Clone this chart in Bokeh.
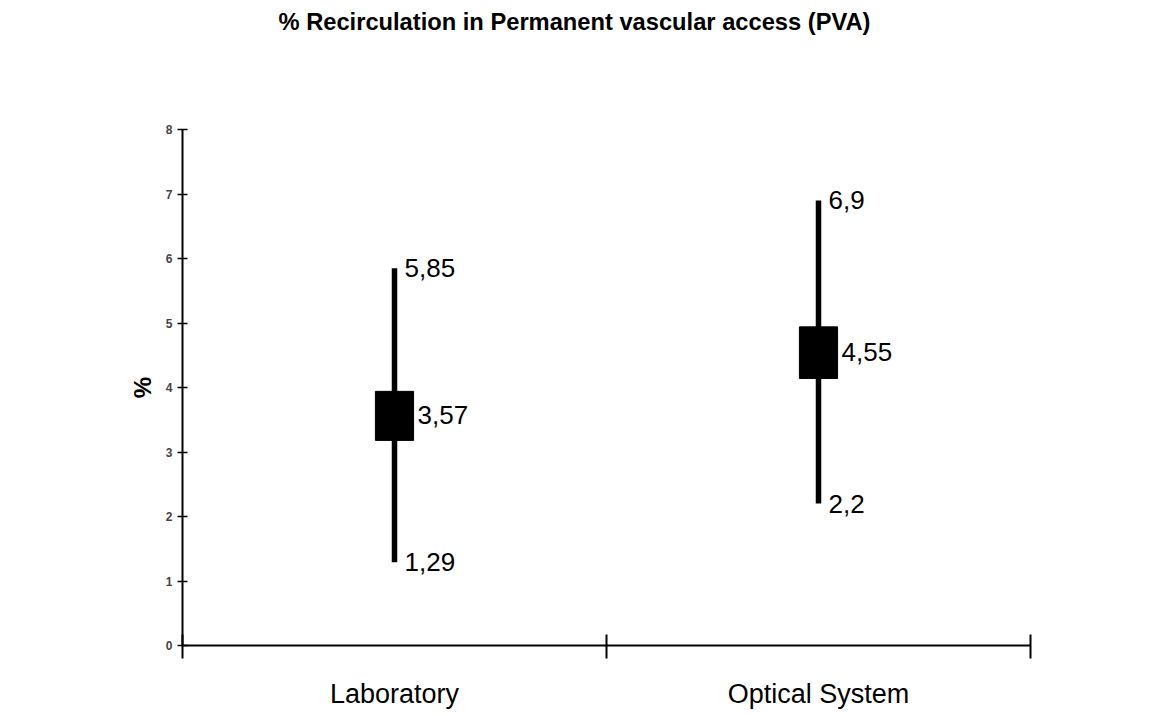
from bokeh.plotting import figure
from bokeh.models import Range1d, FixedTicker, Title
from bokeh.core.properties import value
from bokeh.embed import file_html
from bokeh.resources import INLINE

categories = ["Laboratory", "Optical System"]
low_vals = [1.29, 2.2]
high_vals = [5.85, 6.9]
mean_vals = [3.57, 4.55]
box_low = [3.18, 4.14]
box_high = [3.94, 4.94]
y_ticks = [0, 1, 2, 3, 4, 5, 6, 7, 8]
title_text = "% Recirculation in Permanent vascular access (PVA)"

FONT = "Liberation Sans"

xs = [i + 0.5 for i in range(len(categories))]

def fmt(v):
    return str(v).replace(".", ",")

p = figure(width=1134, height=712, output_backend="svg", toolbar_location=None,
           x_range=Range1d(0, 2), y_range=Range1d(0, 8),
           min_border_left=182, min_border_right=104, min_border_top=129, min_border_bottom=67)

# main title (outermost panel)
p.title = Title(text=title_text, align="left", vertical_align="top",
                text_font=FONT, text_font_size="23.7px", text_font_style="bold",
                text_color="#000000", standoff=0, offset=96)
# invisible spacer between title and plot area
p.add_layout(Title(text=" ", text_font_size="2px", text_color="white", standoff=89), "above")

p.outline_line_color = None
p.grid.visible = False
p.background_fill_color = "white"
p.border_fill_color = "white"

# whiskers
p.segment(x0=xs, y0=low_vals, x1=xs, y1=high_vals, line_color="black", line_width=5.5)
# boxes
p.vbar(x=xs, bottom=box_low, top=box_high, width=0.09, fill_color="black", line_color="black")

# value labels
for vals, dx in ((high_vals, 10), (low_vals, 10), (mean_vals, 23)):
    p.text(x=xs, y=vals, text=[fmt(v) for v in vals], x_offset=dx,
           text_baseline="middle", text_align="left", text_font=value(FONT),
           text_font_size="26px", text_color="black")

# y axis
yax = p.yaxis[0]
yax.ticker = FixedTicker(ticks=y_ticks)
yax.minor_tick_line_color = None
yax.major_tick_in = 5
yax.major_tick_out = 5
yax.major_tick_line_width = 1.5
yax.axis_line_width = 2
yax.axis_line_color = "black"
yax.major_tick_line_color = "black"
yax.major_label_text_font = FONT
yax.major_label_text_font_size = "12px"
yax.major_label_text_font_style = "bold"
yax.major_label_text_color = "#444444"
yax.major_label_standoff = 5
yax.axis_label = "%"
yax.axis_label_text_font = FONT
yax.axis_label_text_font_size = "24px"
yax.axis_label_text_font_style = "bold"
yax.axis_label_text_color = "black"
yax.axis_label_standoff = 7

# x axis
xax = p.xaxis[0]
xax.ticker = FixedTicker(ticks=xs, minor_ticks=[0, 1, 2])
xax.major_label_overrides = {x: c for x, c in zip(xs, categories)}
xax.major_tick_line_color = None
xax.minor_tick_line_color = "black"
xax.minor_tick_line_width = 2
xax.minor_tick_in = 11
xax.minor_tick_out = 13
xax.axis_line_width = 2
xax.axis_line_color = "black"
xax.major_label_text_font = FONT
xax.major_label_text_font_size = "27px"
xax.major_label_text_color = "black"
xax.major_label_standoff = 20

open("out.html", "w").write(file_html(p, INLINE))
